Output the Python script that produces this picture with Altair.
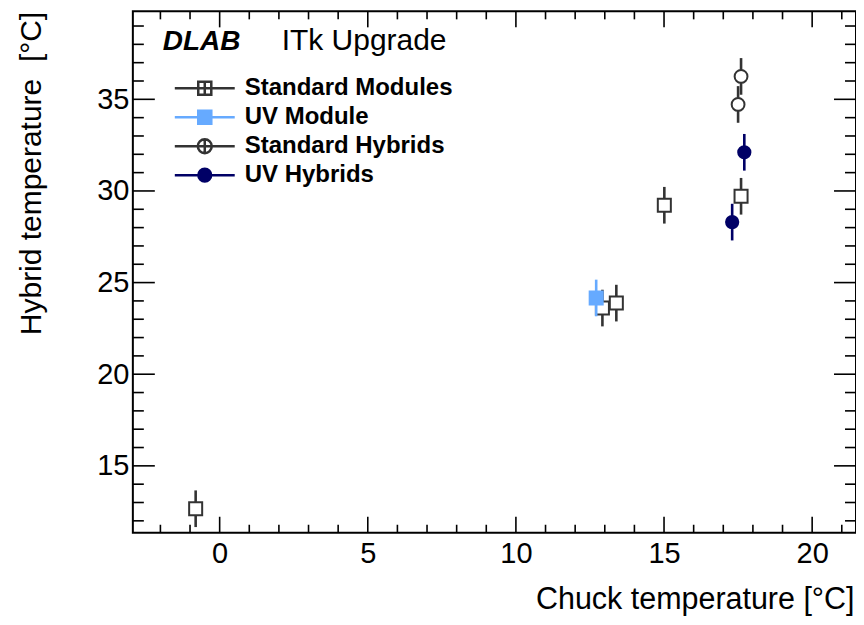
import altair as alt
import pandas as pd

# ---------------- data ----------------
series_names = ["Standard Modules", "UV Module", "Standard Hybrids", "UV Hybrids"]

sm_x = [-0.81, 12.92, 13.39, 15.01, 17.60]
sm_y = [12.66, 23.61, 23.88, 29.22, 29.71]
sm_err = [1.0, 1.0, 1.0, 1.0, 1.0]

uvm_x = [12.71]
uvm_y = [24.16]
uvm_err = [1.0]

sh_x = [17.50, 17.60]
sh_y = [34.72, 36.25]
sh_err = [1.0, 1.0]

uvh_x = [17.30, 17.71]
uvh_y = [28.30, 32.11]
uvh_err = [1.0, 1.0]

x_major = [0, 5, 10, 15, 20]
x_minor = [-2, -1, 1, 2, 3, 4, 6, 7, 8, 9, 11, 12, 13, 14, 16, 17, 18, 19, 21]
y_major = [15, 20, 25, 30, 35]
y_minor = [12, 13, 14, 16, 17, 18, 19, 21, 22, 23, 24, 26, 27, 28, 29,
           31, 32, 33, 34, 36, 37, 38, 39]

x_domain = [-2.93, 21.48]
y_domain = [11.35, 39.80]

x_title = "Chuck temperature [°C]"
y_title = "Hybrid temperature \u00a0[°C]"
label_bold = ["DLAB"]
label_rest = ["ITk Upgrade"]

# ---------------- styles ----------------
FONT = "Liberation Sans"
GRAY = "#333333"
LIGHTBLUE = "#66aaff"
NAVY = "#000066"
W, H = 724, 522

xs = alt.Scale(domain=x_domain, nice=False, zero=False)
ys = alt.Scale(domain=y_domain, nice=False, zero=False)

xaxis = alt.Axis(values=x_major, ticks=False, tickSize=0, domain=False, grid=False,
                 labelFont=FONT, labelFontSize=29, labelColor="black", labelPadding=7,
                 labelFlush=False, labelOverlap=False,
                 title=x_title, titleFont=FONT, titleFontSize=30.5, titleFontWeight="normal",
                 titleColor="black", titleAnchor="end", titleAlign="right",
                 titleX=W - 2, titleY=76, titleBaseline="alphabetic")
yaxis = alt.Axis(values=y_major, ticks=False, tickSize=0, domain=False, grid=False,
                 labelFont=FONT, labelFontSize=29, labelColor="black", labelPadding=4,
                 labelFlush=False, labelOverlap=False,
                 title=y_title, titleFont=FONT, titleFontSize=30, titleFontWeight="normal",
                 titleColor="black", titleAnchor="end", titleAlign="right", titleAngle=270,
                 titleX=-92, titleY=0, titleBaseline="alphabetic")


def X(f):
    return alt.X(f, type="quantitative", scale=xs, axis=xaxis)


def Y(f):
    return alt.Y(f, type="quantitative", scale=ys, axis=yaxis)


layers = []

# ---------------- inward ticks on all four sides ----------------
def xticks(vals, length, bottom):
    yv = y_domain[0] if bottom else y_domain[1]
    off = -length if bottom else length
    return alt.Chart(pd.DataFrame({"v": vals})).mark_rule(
        color="black", strokeWidth=1.6, y2Offset=off).encode(
        x=X("v"),
        y=alt.YDatum(yv, type="quantitative", scale=ys, axis=yaxis),
        y2=alt.Y2Datum(yv),
    )


def yticks(vals, length, left):
    xv = x_domain[0] if left else x_domain[1]
    off = length if left else -length
    return alt.Chart(pd.DataFrame({"v": vals})).mark_rule(
        color="black", strokeWidth=1.6, x2Offset=off).encode(
        y=Y("v"),
        x=alt.XDatum(xv, type="quantitative", scale=xs, axis=xaxis),
        x2=alt.X2Datum(xv),
    )


layers += [
    xticks(x_major, 16, True), xticks(x_minor, 8, True),
    xticks(x_major, 16, False), xticks(x_minor, 8, False),
    yticks(y_major, 22, True), yticks(y_minor, 11, True),
    yticks(y_major, 22, False), yticks(y_minor, 11, False),
]


# ---------------- data series ----------------
def series(xv, yv, ev, color, shape, fill, size):
    df = pd.DataFrame({"x": xv, "y": yv, "e": ev})
    base = alt.Chart(df).transform_calculate(lo="datum.y - datum.e", hi="datum.y + datum.e")
    bars = base.mark_rule(color=color, strokeWidth=2.6).encode(
        x=X("x"), y=Y("lo"), y2=alt.Y2("hi:Q"))
    pts = base.mark_point(shape=shape, filled=True, fill=fill, stroke=color,
                          strokeWidth=2, size=size, opacity=1).encode(x=X("x"), y=Y("y"))
    return [bars, pts]


layers += series(sm_x, sm_y, sm_err, GRAY, "square", "white", 170)
layers += series(uvm_x, uvm_y, uvm_err, LIGHTBLUE, "square", LIGHTBLUE, 170)
layers += series(sh_x, sh_y, sh_err, GRAY, "circle", "white", 165)
layers += series(uvh_x, uvh_y, uvh_err, NAVY, "circle", NAVY, 150)

# ---------------- legend (native legend, custom symbols) ----------------
sq = "M-4,0H4M0,-0.87V0.87M-0.87,-0.87H0.87V0.87H-0.87Z"
sqf = "M-4,0H4M-0.87,-0.87H0.87V0.87H-0.87Z"
ci = "M-4,0H4M0,-0.93V0.93M0.93,0A0.93,0.93,0,1,1,-0.93,0A0.93,0.93,0,1,1,0.93,0Z"
cif = "M-4,0H4M0.85,0A0.85,0.85,0,1,1,-0.85,0A0.85,0.85,0,1,1,0.85,0Z"
legend_paths = [sq, sqf, ci, cif]
legend_strokes = [GRAY, LIGHTBLUE, GRAY, NAVY]
legend_fills = ["transparent", LIGHTBLUE, "transparent", NAVY]

leg = alt.Legend(title=None, orient="none", legendX=60, legendY=65, padding=0,
                 symbolSize=225, symbolStrokeWidth=2.5, symbolOpacity=1,
                 labelFont=FONT, labelFontSize=24, labelFontWeight="bold",
                 labelColor="black", labelOffset=28, labelLimit=0, rowPadding=5)

legend_layer = alt.Chart(pd.DataFrame({"series": series_names})).transform_filter(
    "datum.series == '-'").mark_point(size=225, strokeWidth=2.5, opacity=1).encode(
    shape=alt.Shape("series:N", scale=alt.Scale(domain=series_names, range=legend_paths), legend=leg),
    stroke=alt.Stroke("series:N", scale=alt.Scale(domain=series_names, range=legend_strokes), legend=leg),
    fill=alt.Fill("series:N", scale=alt.Scale(domain=series_names, range=legend_fills), legend=leg),
)
layers.append(legend_layer)

# ---------------- label text ----------------
t1 = alt.Chart(pd.DataFrame({"t": label_bold})).mark_text(
    font=FONT, fontSize=28, fontWeight="bold", fontStyle="italic", align="left",
    baseline="alphabetic", color="black").encode(text="t:N", x=alt.value(30), y=alt.value(39))
t2 = alt.Chart(pd.DataFrame({"t": label_rest})).mark_text(
    font=FONT, fontSize=30, align="left", baseline="alphabetic", color="black").encode(
    text="t:N", x=alt.value(149), y=alt.value(39))
layers += [t1, t2]

chart = alt.layer(*layers).properties(
    width=W, height=H,
    autosize=alt.AutoSizeParams(type="none"),
    padding={"left": 125, "top": 3, "right": 0, "bottom": 84},
    background="white",
).configure_view(stroke="black", strokeWidth=2)

chart.save("out.html", embed_options={"renderer": "svg", "actions": False})
